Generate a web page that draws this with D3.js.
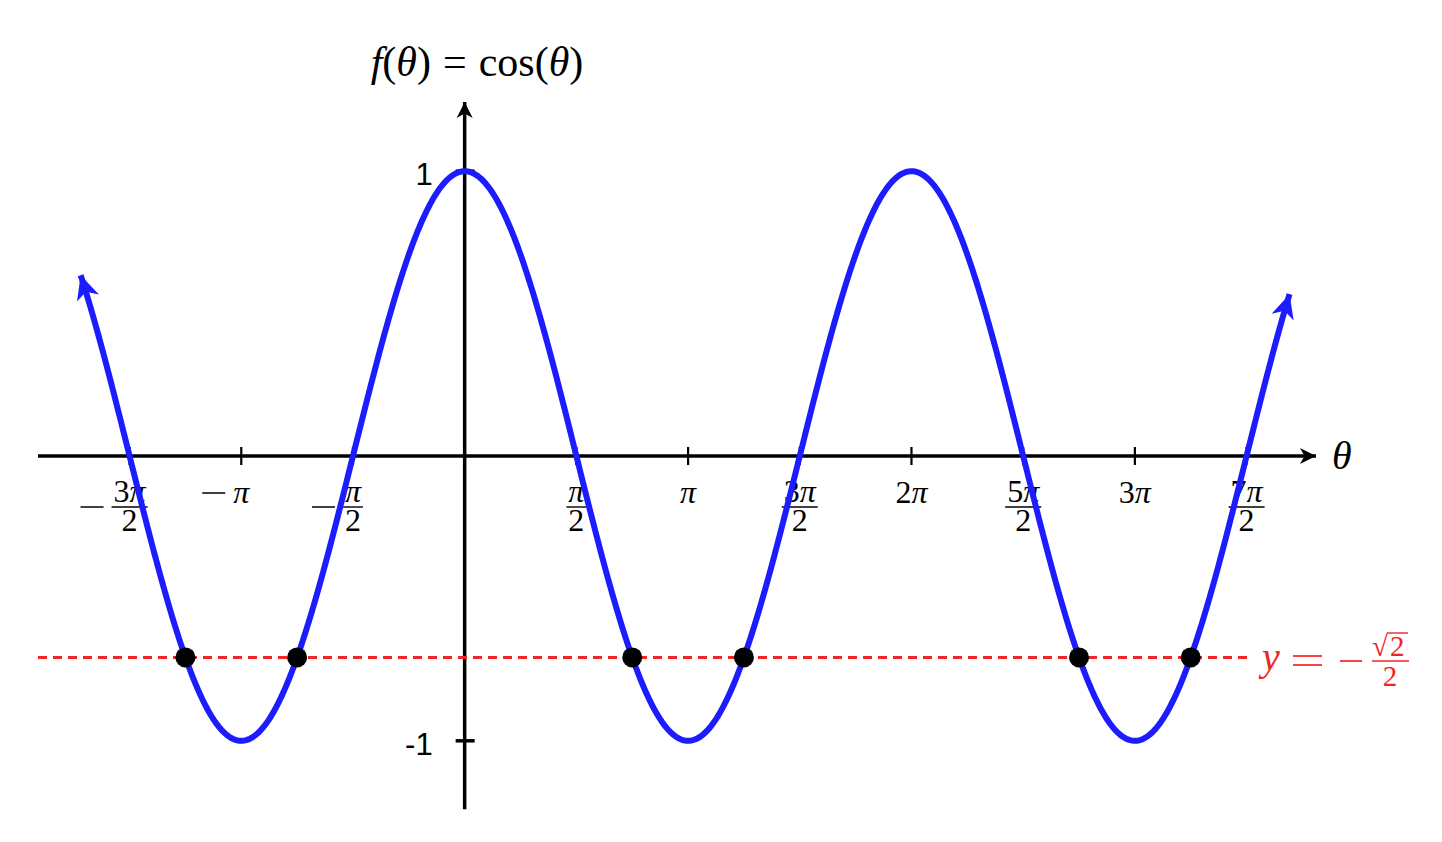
<!DOCTYPE html>
<html>
<head>
<meta charset="utf-8">
<script src="https://cdn.jsdelivr.net/npm/d3@7"></script>
<style>
  body { margin: 0; background: #fff; }
  text { font-family: "Liberation Serif", serif; }
</style>
</head>
<body>
<svg id="chart" width="1442" height="842"></svg>
<script>
// data
const xDomain = [-6, 12];          // radians, x axis extent
const yDomain = [-1.25, 1.25];
const curveDomain = [-5.4, 11.6];  // where the cosine curve is drawn
const lineLevel = -Math.SQRT2 / 2;
const lineDomain = [-6, 11.05];
// x ticks in units of pi/2
const xTickHalfPi = [-3, -2, -1, 1, 2, 3, 4, 5, 6, 7];
const xTickLabels = [
  {sign: true, num: '3', den: '2'},
  {sign: true, txt: ''},
  {sign: true, num: '', den: '2'},
  {num: '', den: '2'},
  {txt: ''},
  {num: '3', den: '2'},
  {txt: '2'},
  {num: '5', den: '2'},
  {txt: '3'},
  {num: '7', den: '2'}
];
const yTicks = [1, -1];
const yTickLabels = ['1', '-1'];
// intersections with y = -sqrt(2)/2, in units of pi/4
const crossQuarterPi = [-5, -3, 3, 5, 11, 13];

const BLUE = '#1c1cff', RED = '#f02525';
const svg = d3.select('#chart');
const x = d3.scaleLinear().domain(xDomain).range([38, 1318]);
const y = d3.scaleLinear().domain(yDomain).range([812, 100]);

const defs = svg.append('defs');
function arrow(id, color, len, half) {
  defs.append('marker')
    .attr('id', id)
    .attr('markerUnits', 'userSpaceOnUse')
    .attr('viewBox', `${-len - 2} ${-half - 2} ${len + 4} ${half * 2 + 4}`)
    .attr('markerWidth', len + 4)
    .attr('markerHeight', half * 2 + 4)
    .attr('refX', 0).attr('refY', 0)
    .attr('orient', 'auto-start-reverse')
    .append('path')
    .attr('d', `M0,0 L${-len},${-half} L${-len * 0.72},0 L${-len},${half} Z`)
    .attr('fill', color);
}
arrow('arrK', '#000', 16, 8);
arrow('arrB', BLUE, 24, 11.5);

// axes
svg.append('line')
  .attr('x1', x(xDomain[0])).attr('x2', x(xDomain[1]) - 2)
  .attr('y1', y(0)).attr('y2', y(0))
  .attr('stroke', '#000').attr('stroke-width', 3.5)
  .attr('marker-end', 'url(#arrK)');
svg.append('line')
  .attr('x1', x(0)).attr('x2', x(0))
  .attr('y1', y(-1.24)).attr('y2', y(yDomain[1]) + 2)
  .attr('stroke', '#000').attr('stroke-width', 3.5)
  .attr('marker-end', 'url(#arrK)');

// x ticks
svg.selectAll('.xtick')
  .data(xTickHalfPi)
  .enter().append('line')
  .attr('x1', d => x(d * Math.PI / 2)).attr('x2', d => x(d * Math.PI / 2))
  .attr('y1', y(0) - 9).attr('y2', y(0) + 9)
  .attr('stroke', '#000').attr('stroke-width', 2.2);

// y ticks
svg.selectAll('.ytick')
  .data(yTicks)
  .enter().append('line')
  .attr('x1', x(0) - 9).attr('x2', x(0) + 10)
  .attr('y1', d => y(d)).attr('y2', d => y(d))
  .attr('stroke', '#000').attr('stroke-width', 3.5);

svg.selectAll('.ylab')
  .data(yTicks)
  .enter().append('text')
  .attr('x', x(0) - 32)
  .attr('y', d => y(d) + 14)
  .attr('text-anchor', 'end')
  .style('font-family', '"Liberation Sans", Arial, sans-serif')
  .style('font-size', '31px')
  .text((d, i) => yTickLabels[i]);

// "coef pi" text with italic pi
function piText(g, cx, by, coef, size) {
  const t = g.append('text').attr('x', cx).attr('y', by)
    .attr('text-anchor', 'middle').style('font-size', size + 'px');
  if (coef) t.append('tspan').text(coef);
  t.append('tspan').style('font-style', 'italic').text('π');
  return t;
}

// x tick labels (fractions drawn by hand)
const fs = 32;
xTickHalfPi.forEach((k, i) => {
  const lab = xTickLabels[i];
  const cx = x(k * Math.PI / 2);
  const g = svg.append('g');
  let halfW, midY;
  if (lab.txt !== undefined) {
    const t = piText(g, cx, 503, lab.txt, fs);
    halfW = t.node().getComputedTextLength() / 2;
    midY = 493;
  } else {
    const t = piText(g, cx, 502, lab.num, fs);
    halfW = t.node().getComputedTextLength() / 2 + 2;
    g.append('text').attr('x', cx).attr('y', 531)
      .attr('text-anchor', 'middle').style('font-size', fs + 'px')
      .text(lab.den);
    g.append('line')
      .attr('x1', cx - halfW).attr('x2', cx + halfW)
      .attr('y1', 507).attr('y2', 507)
      .attr('stroke', '#000').attr('stroke-width', 1.4);
    midY = 507;
  }
  if (lab.sign) {
    const r = cx - halfW - 8;
    g.append('line')
      .attr('x1', r - 23).attr('x2', r)
      .attr('y1', midY).attr('y2', midY)
      .attr('stroke', '#000').attr('stroke-width', 1.5);
  }
});

// dashed red line
svg.append('line')
  .attr('x1', x(lineDomain[0])).attr('x2', x(lineDomain[1]))
  .attr('y1', y(lineLevel)).attr('y2', y(lineLevel))
  .attr('stroke', RED).attr('stroke-width', 3)
  .attr('stroke-dasharray', '9,6');

// red label y = -sqrt2/2
const rl = svg.append('g').attr('fill', RED);
rl.append('text').attr('x', 1262).attr('y', 670).style('font-size', '40px')
  .style('font-style', 'italic').text('y');
rl.append('line').attr('x1', 1293).attr('x2', 1322).attr('y1', 656).attr('y2', 656)
  .attr('stroke', RED).attr('stroke-width', 1.7);
rl.append('line').attr('x1', 1293).attr('x2', 1322).attr('y1', 665).attr('y2', 665)
  .attr('stroke', RED).attr('stroke-width', 1.7);
rl.append('line').attr('x1', 1340).attr('x2', 1362).attr('y1', 661).attr('y2', 661)
  .attr('stroke', RED).attr('stroke-width', 1.7);
rl.append('text').attr('x', 1372).attr('y', 656).style('font-size', '29px').text('√');
rl.append('text').attr('x', 1390).attr('y', 656).style('font-size', '29px').text('2');
rl.append('line').attr('x1', 1387).attr('x2', 1408).attr('y1', 633).attr('y2', 633)
  .attr('stroke', RED).attr('stroke-width', 1.4);
rl.append('line').attr('x1', 1372).attr('x2', 1409).attr('y1', 661).attr('y2', 661)
  .attr('stroke', RED).attr('stroke-width', 1.4);
rl.append('text').attr('x', 1390).attr('y', 686).attr('text-anchor', 'middle')
  .style('font-size', '29px').text('2');

// cosine curve
const N = 800;
const pts = d3.range(N + 1).map(i => {
  const t = curveDomain[0] + (curveDomain[1] - curveDomain[0]) * i / N;
  return [t, Math.cos(t)];
});
svg.append('path')
  .datum(pts)
  .attr('d', d3.line().x(d => x(d[0])).y(d => y(d[1])))
  .attr('fill', 'none')
  .attr('stroke', BLUE).attr('stroke-width', 6)
  .attr('marker-start', 'url(#arrB)')
  .attr('marker-end', 'url(#arrB)');

// intersection dots
svg.selectAll('.dot')
  .data(crossQuarterPi)
  .enter().append('circle')
  .attr('cx', d => x(d * Math.PI / 4))
  .attr('cy', y(lineLevel))
  .attr('r', 10)
  .attr('fill', '#000');

// titles
const tt = svg.append('text').attr('x', 477).attr('y', 76)
  .attr('text-anchor', 'middle').style('font-size', '42px');
tt.append('tspan').style('font-style', 'italic').text('f');
tt.append('tspan').text('(');
tt.append('tspan').style('font-style', 'italic').text('θ');
tt.append('tspan').text(')');
tt.append('tspan').attr('dx', 12).text('=');
tt.append('tspan').attr('dx', 12).text('cos(');
tt.append('tspan').style('font-style', 'italic').text('θ');
tt.append('tspan').text(')');

svg.append('text').attr('x', 1332).attr('y', 469)
  .style('font-size', '40px').style('font-style', 'italic').text('θ');
</script>
</body>
</html>
